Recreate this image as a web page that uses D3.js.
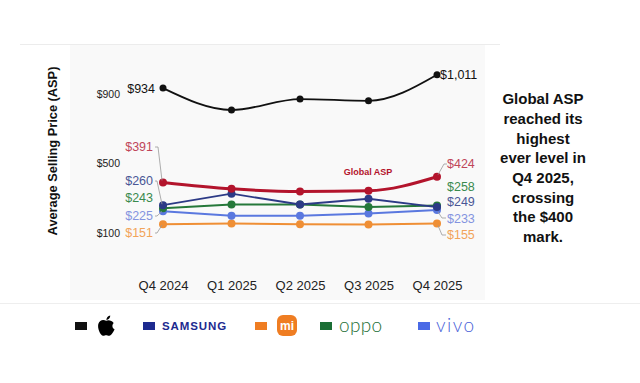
<!DOCTYPE html>
<html><head><meta charset="utf-8">
<script src="https://cdn.jsdelivr.net/npm/d3@7/dist/d3.min.js"></script>
<style>
body{margin:0;background:#fff;}
svg{display:block;font-family:"Liberation Sans",Arial,sans-serif;}
</style></head>
<body><svg id="c" width="640" height="383"></svg>
<script>
const quarters = ["Q4 2024","Q1 2025","Q2 2025","Q3 2025","Q4 2025"];
const apple   = [934, 808, 871, 861, 1011];
const globalA = [391, 354, 339, 343, 424];
const samsung = [260, 326, 264, 297, 249];
const oppo    = [243, 264, 264, 249, 258];
const vivo    = [225, 199, 199, 212, 233];
const xiaomi  = [151, 155, 151, 149, 155];
const yTicks  = [100, 500, 900];
const yTickLabels = ["$100","$500","$900"];

const svg = d3.select("#c");
const x = d3.scalePoint().domain(quarters).range([163, 437]);
const y = d3.scaleLinear().domain([100, 900]).range([233, 94]);

// background panel
svg.append("rect").attr("x",70).attr("y",45).attr("width",415).attr("height",255).attr("fill","#f9f9f9");
svg.append("line").attr("x1",20).attr("x2",500).attr("y1",44.5).attr("y2",44.5).attr("stroke","#ececec");
svg.append("line").attr("x1",0).attr("x2",640).attr("y1",303.5).attr("y2",303.5).attr("stroke","#eeeeee");

// y axis title
svg.append("text").attr("transform","translate(57,151) rotate(-90)").attr("text-anchor","middle")
  .attr("font-size",12.8).attr("font-weight","bold").attr("fill","#111").text("Average Selling Price (ASP)");

// y axis
const ya = svg.append("g").attr("transform","translate(120,0)")
  .call(d3.axisLeft(y).tickValues(yTicks).tickSize(0).tickPadding(0).tickFormat((d,i)=>yTickLabels[i]));
ya.select(".domain").remove();
ya.selectAll("text").attr("font-size",10.5).attr("fill","#222").attr("font-family","Liberation Sans, Arial");

// x axis
const xa = svg.append("g").attr("transform","translate(0,281)")
  .call(d3.axisBottom(x).tickSize(0).tickPadding(0));
xa.select(".domain").remove();
xa.selectAll("text").attr("font-size",13).attr("fill","#222").attr("font-family","Liberation Sans, Arial").attr("dy","0.71em");

const series = [
  {name:"xiaomi", vals:xiaomi, color:"#ef8f35", w:2, curve:d3.curveLinear, r:4},
  {name:"vivo", vals:vivo, color:"#5a78df", w:2, curve:d3.curveLinear, r:4},
  {name:"oppo", vals:oppo, color:"#25783a", w:2, curve:d3.curveLinear, r:4},
  {name:"samsung", vals:samsung, color:"#2c3a86", w:1.8, curve:d3.curveLinear, r:4},
  {name:"global", vals:globalA, color:"#b3142c", w:3, curve:d3.curveMonotoneX, r:4},
  {name:"apple", vals:apple, color:"#111", w:1.8, curve:d3.curveMonotoneX, r:3.5}
];
series.forEach(s=>{
  const line = d3.line().x((d,i)=>x(quarters[i])).y(d=>y(d)).curve(s.curve);
  svg.append("path").datum(s.vals).attr("d",line).attr("fill","none").attr("stroke",s.color).attr("stroke-width",s.w);
  svg.selectAll(null).data(s.vals).enter().append("circle")
    .attr("cx",(d,i)=>x(quarters[i])).attr("cy",d=>y(d)).attr("r",s.r).attr("fill",s.color);
});

// leader lines
const lc = "#999";
const x0 = x(quarters[0]), x4 = x(quarters[4]);
svg.append("path").attr("d",`M155,147 H158 L${x0-1},${y(globalA[0])-2}`).attr("stroke",lc).attr("fill","none").attr("stroke-width",0.8);
svg.append("path").attr("d",`M155,216 H157 L${x0-1},${y(vivo[0])}`).attr("stroke",lc).attr("fill","none").attr("stroke-width",0.8);
svg.append("path").attr("d",`M155,233 H157 L${x0-1},${y(xiaomi[0])+1}`).attr("stroke",lc).attr("fill","none").attr("stroke-width",0.8);
svg.append("path").attr("d",`M155,181 H157 L${x0-1},${y(samsung[0])-1}`).attr("stroke",lc).attr("fill","none").attr("stroke-width",0.8);
svg.append("path").attr("d",`M${x4+1},${y(globalA[4])-2} L444,164 H447`).attr("stroke",lc).attr("fill","none").attr("stroke-width",0.8);
svg.append("path").attr("d",`M${x4+1},${y(vivo[4])+2} L442,218 H446`).attr("stroke",lc).attr("fill","none").attr("stroke-width",0.8);
svg.append("path").attr("d",`M${x4+1},${y(xiaomi[4])+2} L442,235 H446`).attr("stroke",lc).attr("fill","none").attr("stroke-width",0.8);

// value labels
const fmt = v => "$" + d3.format(",")(v);
const leftLabels = [
  {v:apple[0], y:89, c:"#111", xx:155},
  {v:globalA[0], y:147, c:"#c0465a", xx:153},
  {v:samsung[0], y:181, c:"#4a5796", xx:153},
  {v:oppo[0], y:198, c:"#3a8a4e", xx:153},
  {v:vivo[0], y:216, c:"#8494e0", xx:153},
  {v:xiaomi[0], y:233, c:"#f2a45a", xx:153}
];
leftLabels.forEach(l=>{
  svg.append("text").attr("x",l.xx).attr("y",l.y).attr("dy","0.35em").attr("text-anchor","end")
    .attr("font-size",12.5).attr("fill",l.c).text(fmt(l.v));
});
const rightLabels = [
  {v:apple[4], y:75, c:"#111", xx:440},
  {v:globalA[4], y:164, c:"#c0465a", xx:447},
  {v:oppo[4], y:187, c:"#3a8a4e", xx:447},
  {v:samsung[4], y:202, c:"#4a5796", xx:447},
  {v:vivo[4], y:219, c:"#8494e0", xx:447},
  {v:xiaomi[4], y:235, c:"#f2a45a", xx:447}
];
rightLabels.forEach(l=>{
  svg.append("text").attr("x",l.xx).attr("y",l.y).attr("dy","0.35em").attr("text-anchor","start")
    .attr("font-size",12.5).attr("fill",l.c).text(fmt(l.v));
});

svg.append("text").attr("x",368).attr("y",172).attr("dy","0.35em").attr("text-anchor","middle")
  .attr("font-size",9).attr("font-weight","bold").attr("fill","#b3142c").text("Global ASP");

// annotation
const note = ["Global ASP","reached its","highest","ever level in","Q4 2025,","crossing","the $400","mark."];
svg.append("g").selectAll("text").data(note).enter().append("text")
  .attr("x",543).attr("y",(d,i)=>99+i*19.7).attr("dy","0.35em").attr("text-anchor","middle")
  .attr("font-size",15).attr("font-weight","bold").attr("fill","#111").text(d=>d);

// legend
const lg = svg.append("g");
const sw = [{x:75,c:"#111"},{x:143,c:"#1d2a8f"},{x:255,c:"#ef7d22"},{x:320,c:"#1b6e35"},{x:418,c:"#4a6ae6"}];
lg.selectAll("rect.sw").data(sw).enter().append("rect").attr("class","sw")
  .attr("x",d=>d.x).attr("y",322).attr("width",12).attr("height",8).attr("fill",d=>d.c);
// apple logo
lg.append("path").attr("transform","translate(97,315) scale(1.3)")
  .attr("d","M7,4.5 C5.5,3.5 2,3.2 1,7 C0.2,10.5 2.5,15.5 4.5,16 C5.5,16.2 6,15.6 7,15.6 C8,15.6 8.5,16.2 9.5,16 C11,15.6 12.8,13 13.5,11 C11.8,10.2 11.2,8 12.8,6.2 C11.5,4 8.5,3.6 7,4.5 Z M7.2,3.8 C7.2,2 8.5,0.5 10.2,0.3 C10.3,2 9,3.6 7.2,3.8 Z")
  .attr("fill","#000");
lg.append("text").attr("x",162).attr("y",326).attr("dy","0.35em").attr("font-size",11.5).attr("font-weight","bold")
  .attr("letter-spacing",0.9).attr("fill","#1d2a8f").text("SAMSUNG");
lg.append("rect").attr("x",277).attr("y",315).attr("width",20).attr("height",21).attr("rx",6).attr("fill","#ef7d22");
lg.append("text").attr("x",287).attr("y",326).attr("dy","0.35em").attr("text-anchor","middle").attr("font-size",12)
  .attr("font-weight","bold").attr("fill","#fff").text("mi");
lg.append("text").attr("x",339).attr("y",325).attr("dy","0.35em").attr("font-size",19).attr("font-weight",300).attr("font-family","Lato, sans-serif")
  .attr("letter-spacing",0.3).attr("fill","#1b6e35").text("oppo");
lg.append("text").attr("x",436).attr("y",325).attr("dy","0.35em").attr("font-size",19).attr("font-weight",300).attr("font-family","Lato, sans-serif")
  .attr("letter-spacing",1.5).attr("fill","#4a5fd8").text("vivo");
</script></body></html>
